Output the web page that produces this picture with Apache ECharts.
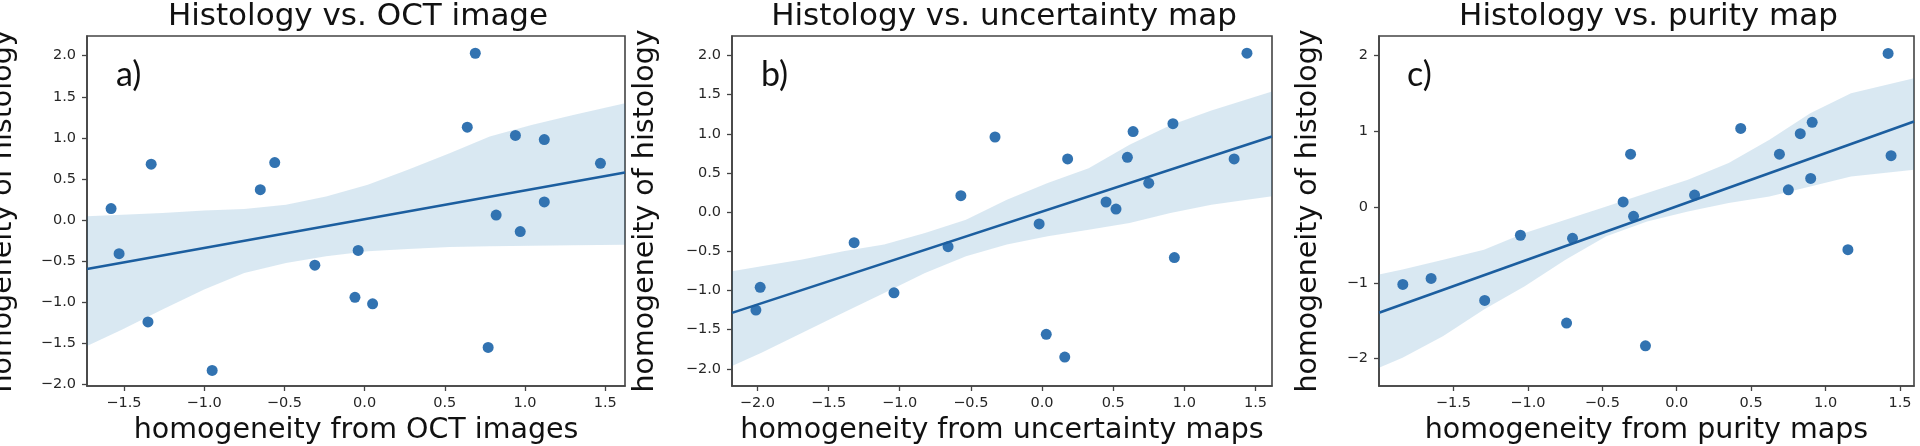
<!DOCTYPE html>
<html>
<head>
<meta charset="utf-8">
<script src="https://cdn.jsdelivr.net/npm/echarts@6/dist/echarts.min.js"></script>
<style>
html,body{margin:0;padding:0;background:#fff;}
#chart{width:1920px;height:446px;}
</style>
</head>
<body>
<div id="chart"></div>
<script>
// ---------- Panel a: Histology vs. OCT image ----------
const aX = [-1.58, -1.53, -1.33, -1.35, -0.95, -0.65, -0.56, -0.31, -0.06, -0.04, 0.05, 0.64, 0.69, 0.77, 0.82, 0.94, 0.97, 1.12, 1.12, 1.47];
const aY = [0.14, -0.41, 0.68, -1.24, -1.83, 0.37, 0.70, -0.55, -0.94, -0.37, -1.02, 1.13, 2.03, -1.55, 0.06, 1.03, -0.14, 0.98, 0.22, 0.69];
const aLineX = [-1.73, 1.623];
const aLineY = [-0.595, 0.579];
const aBandX = [-1.73, -1.51, -1.26, -1.00, -0.75, -0.49, -0.24, 0.02, 0.27, 0.53, 0.78, 1.04, 1.30, 1.623];
const aBandUp = [0.045, 0.065, 0.085, 0.117, 0.134, 0.186, 0.287, 0.429, 0.611, 0.814, 1.016, 1.158, 1.279, 1.421];
const aBandLo = [-1.534, -1.332, -1.089, -0.846, -0.644, -0.522, -0.441, -0.381, -0.352, -0.328, -0.320, -0.312, -0.308, -0.300];
const aXTicks = [-1.5, -1.0, -0.5, 0.0, 0.5, 1.0, 1.5];
const aYTicks = [-2.0, -1.5, -1.0, -0.5, 0.0, 0.5, 1.0, 1.5, 2.0];

// ---------- Panel b: Histology vs. uncertainty map ----------
const bX = [-2.01, -1.98, -1.32, -1.04, -0.66, -0.57, -0.33, -0.02, 0.03, 0.16, 0.18, 0.45, 0.52, 0.60, 0.64, 0.75, 0.92, 0.93, 1.35, 1.44];
const bY = [-1.25, -0.96, -0.39, -1.03, -0.44, 0.21, 0.96, -0.15, -1.56, -1.85, 0.68, 0.13, 0.04, 0.70, 1.03, 0.37, 1.13, -0.58, 0.68, 2.03];
const bLineX = [-2.178, 1.616];
const bLineY = [-1.286, 0.967];
const bBandX = [-2.178, -1.971, -1.684, -1.397, -1.109, -0.822, -0.534, -0.247, 0.040, 0.328, 0.615, 0.902, 1.190, 1.616];
const bBandUp = [-0.755, -0.691, -0.606, -0.499, -0.414, -0.266, -0.096, 0.159, 0.372, 0.560, 0.860, 1.110, 1.300, 1.541];
const bBandLo = [-1.966, -1.796, -1.541, -1.286, -1.031, -0.776, -0.564, -0.414, -0.308, -0.223, -0.138, -0.011, 0.096, 0.202];
const bXTicks = [-2.0, -1.5, -1.0, -0.5, 0.0, 0.5, 1.0, 1.5];
const bYTicks = [-2.0, -1.5, -1.0, -0.5, 0.0, 0.5, 1.0, 1.5, 2.0];

// ---------- Panel c: Histology vs. purity map ----------
const cX = [-1.84, -1.65, -1.29, -1.05, -0.74, -0.70, -0.36, -0.31, -0.29, -0.21, 0.12, 0.43, 0.69, 0.75, 0.83, 0.90, 0.91, 1.15, 1.42, 1.44];
const cY = [-1.02, -0.94, -1.23, -0.37, -1.53, -0.41, 0.07, 0.70, -0.12, -1.83, 0.16, 1.04, 0.70, 0.23, 0.97, 0.38, 1.12, -0.56, 2.03, 0.68];
const cLineX = [-2.0, 1.594];
const cLineY = [-1.394, 1.131];
const cBandX = [-2.0, -1.842, -1.568, -1.295, -1.021, -0.747, -0.473, -0.199, 0.075, 0.349, 0.623, 0.897, 1.171, 1.594];
const cBandUp = [-0.889, -0.823, -0.692, -0.560, -0.340, -0.165, 0.011, 0.187, 0.362, 0.582, 0.889, 1.240, 1.504, 1.701];
const cBandLo = [-2.119, -1.987, -1.701, -1.350, -1.043, -0.692, -0.384, -0.187, -0.055, 0.055, 0.143, 0.275, 0.406, 0.494];
const cXTicks = [-1.5, -1.0, -0.5, 0.0, 0.5, 1.0, 1.5];
const cYTicks = [-2, -1, 0, 1, 2];

// ---------- Texts ----------
const titles = ['Histology vs. OCT image', 'Histology vs. uncertainty map', 'Histology vs. purity map'];
const xNames = ['homogeneity from OCT images', 'homogeneity from uncertainty maps', 'homogeneity from purity maps'];
const yName = 'homogeneity of histology';
const letters = ['a)', 'b)', 'c)'];

// ---------- Layout (pixels) ----------
const panels = [
  {left: 87, right: 1295, xMin: -1.73, xMax: 1.623, yMin: -2.02, yMax: 2.24, xDec: 1, yDec: 1, yLabelX: 4, letterX: 116,
   X: aX, Y: aY, LX: aLineX, LY: aLineY, BX: aBandX, BU: aBandUp, BL: aBandLo, XT: aXTicks, YT: aYTicks},
  {left: 732, right: 648, xMin: -2.178, xMax: 1.616, yMin: -2.22, yMax: 2.25, xDec: 1, yDec: 1, yLabelX: 646, letterX: 761,
   X: bX, Y: bY, LX: bLineX, LY: bLineY, BX: bBandX, BU: bBandUp, BL: bBandLo, XT: bXTicks, YT: bYTicks},
  {left: 1379, right: 6, xMin: -2.0, xMax: 1.594, yMin: -2.36, yMax: 2.26, xDec: 1, yDec: 0, yLabelX: 1309, letterX: 1407,
   X: cX, Y: cY, LX: cLineX, LY: cLineY, BX: cBandX, BU: cBandUp, BL: cBandLo, XT: cXTicks, YT: cYTicks}
];

const TOP = 36, BOTTOM = 60;
const AX_COLOR = '#444';
const fmt = (d) => (v) => (v < 0 ? '\u2212' : '') + Math.abs(v).toFixed(d);

const grid = [], xAxis = [], yAxis = [], series = [], graphic = [];

panels.forEach((p, i) => {
  grid.push({left: p.left, right: p.right, top: TOP, bottom: BOTTOM, show: true,
    borderColor: AX_COLOR, borderWidth: 1.6, backgroundColor: 'transparent', containLabel: false, outerBoundsMode: 'none'});
  const axisCommon = {
    gridIndex: i, type: 'value', splitLine: {show: false},
    axisLine: {show: true, onZero: false, lineStyle: {color: AX_COLOR, width: 1.6}}
  };
  xAxis.push(Object.assign({}, axisCommon, {
    min: p.xMin, max: p.xMax, position: 'bottom',
    axisTick: {show: true, inside: false, length: 5, lineStyle: {color: AX_COLOR, width: 1.3}, customValues: p.XT},
    axisLabel: {show: true, customValues: p.XT, formatter: fmt(p.xDec), margin: 10,
      fontSize: 14.5, fontFamily: 'DejaVu Sans', color: '#262626'}
  }));
  yAxis.push(Object.assign({}, axisCommon, {
    min: p.yMin, max: p.yMax, position: 'left',
    axisTick: {show: true, inside: false, length: 5, lineStyle: {color: AX_COLOR, width: 1.3}, customValues: p.YT},
    axisLabel: {show: true, customValues: p.YT, formatter: fmt(p.yDec), margin: 11,
      fontSize: 14.5, fontFamily: 'DejaVu Sans', color: '#262626'}
  }));

  // confidence band
  series.push({
    type: 'custom', xAxisIndex: i, yAxisIndex: i, silent: true, z: 1,
    data: [[p.BX[0], p.BL[0]]],
    renderItem: (params, api) => {
      const pts = [];
      for (let k = 0; k < p.BX.length; k++) pts.push(api.coord([p.BX[k], p.BU[k]]));
      for (let k = p.BX.length - 1; k >= 0; k--) pts.push(api.coord([p.BX[k], p.BL[k]]));
      return {type: 'polygon', shape: {points: pts}, style: {fill: 'rgba(31,119,180,0.17)', stroke: null}};
    }
  });
  // points
  series.push({
    type: 'scatter', xAxisIndex: i, yAxisIndex: i, z: 2, symbolSize: 11,
    itemStyle: {color: '#3273b1', opacity: 1},
    data: p.X.map((x, k) => [x, p.Y[k]])
  });
  // regression line
  series.push({
    type: 'line', xAxisIndex: i, yAxisIndex: i, z: 3, symbol: 'none',
    lineStyle: {color: '#1c5e9f', width: 2.6},
    data: p.LX.map((x, k) => [x, p.LY[k]])
  });

  const cx = p.left + (1920 - p.right - p.left) / 2;
  graphic.push({type: 'text', x: cx + 2, y: 17, style: {text: titles[i], fontSize: 31, fontFamily: 'DejaVu Sans',
    fill: '#111', align: 'center', verticalAlign: 'middle', textAlign: 'center', textVerticalAlign: 'middle'}});
  graphic.push({type: 'text', x: cx, y: 431, style: {text: xNames[i], fontSize: 28.5, fontFamily: 'DejaVu Sans',
    fill: '#111', align: 'center', verticalAlign: 'middle', textAlign: 'center', textVerticalAlign: 'middle'}});
  graphic.push({type: 'text', x: p.yLabelX, y: 211, rotation: Math.PI / 2, style: {text: yName, fontSize: 28.5, fontFamily: 'DejaVu Sans',
    fill: '#111', align: 'center', verticalAlign: 'middle', textAlign: 'center', textVerticalAlign: 'middle'}});
  graphic.push({type: 'text', x: p.letterX, y: 75, style: {text: letters[i], fontSize: 34, fontFamily: 'Lato',
    fill: '#111', align: 'left', verticalAlign: 'middle', textAlign: 'left', textVerticalAlign: 'middle'}});
});

const chart = echarts.init(document.getElementById('chart'), null, {renderer: 'canvas'});
chart.setOption({
  animation: false,
  backgroundColor: '#fff',
  grid, xAxis, yAxis, series, graphic
});
</script>
</body>
</html>
